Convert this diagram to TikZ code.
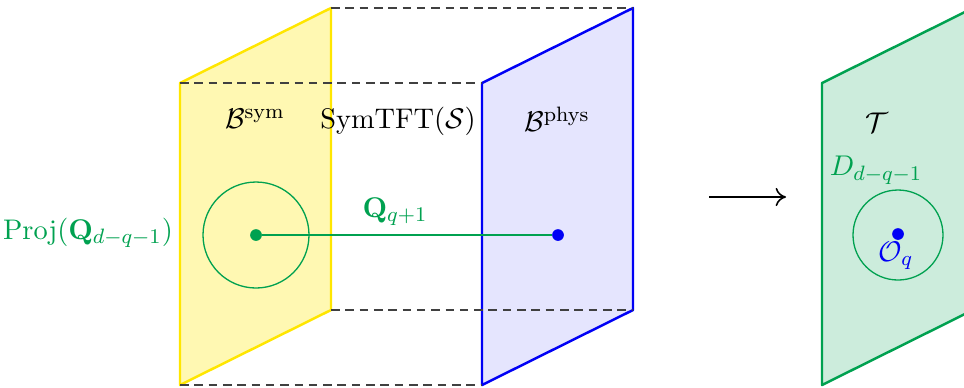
\documentclass[tikz,border=0pt]{standalone}
\usepackage{amsmath,amssymb}
\usetikzlibrary{arrows.meta}
\definecolor{mygreen}{RGB}{0,161,80}
\definecolor{myyellow}{RGB}{255,230,0}
\definecolor{myblue}{RGB}{0,0,245}
\begin{document}
\begin{tikzpicture}[x=0.0135cm,y=-0.0135cm,
  plane/.style={line width=0.95pt, line join=round},
  dashline/.style={dash pattern=on 3.3pt off 2.2pt, black!75, line width=0.55pt},
  dot/.style={circle, fill, inner sep=0pt, minimum size=4.5pt},
  lbl/.style={font=\fontsize{10.9}{13}\selectfont, inner sep=1pt}]
\useasboundingbox (0,0) rectangle (964,387);
% planes
\fill[myyellow!30] (180,83) -- (331,8) -- (331,310) -- (180,385) -- cycle;
\fill[myblue!10] (482,83) -- (633,8) -- (633,310) -- (482,385) -- cycle;
\draw[plane, myyellow] (180,83) -- (331,8) -- (331,310) -- (180,385) -- cycle;
\draw[plane, myblue] (482,83) -- (633,8) -- (633,310) -- (482,385) -- cycle;
% dashed edges
\draw[dashline] (331,8) -- (633,8);
\draw[dashline] (180,83) -- (482,83);
\draw[dashline] (331,310) -- (633,310);
\draw[dashline] (180,385) -- (482,385);
% green plane
\begin{scope}
\clip (0,0) rectangle (964,387);
\filldraw[plane, mygreen, fill=mygreen!20] (822,83) -- (973,8) -- (973,310) -- (822,385) -- cycle;
\end{scope}
% line operator
\node[dot, mygreen] (a) at (256,235) {};
\node[dot, myblue] (b) at (558,235) {};
\draw[mygreen, line width=0.5pt] (a.center) circle (53);
\draw[mygreen, line width=0.85pt] (a) -- (b);
% labels
\node[lbl] (bsym) at (255,119) {$\mathcal{B}^{\mathrm{sym}}$};
\node[lbl] (symtft) at (398,121) {SymTFT$(\mathcal{S})$};
\node[lbl] (bphys) at (557,119) {$\mathcal{B}^{\mathrm{phys}}$};
\node[lbl, mygreen] (qlab) at (395,212) {$\mathbf{Q}_{q+1}$};
\node[lbl, mygreen] (proj) at (88,233) {Proj$(\mathbf{Q}_{d-q-1})$};
% arrow
\coordinate (arrs) at (709,197);
\coordinate (arre) at (786,197);
\draw[-{To[length=4pt,width=7pt]}, line width=0.6pt] (arrs) -- (arre);
% right side
\node[dot, myblue] (o) at (898,234) {};
\draw[mygreen, line width=0.5pt] (898,235) circle (45);
\node[lbl] (T) at (877,123) {$\mathcal{T}$};
\node[lbl, mygreen] (D) at (876,170) {$D_{d-q-1}$};
\node[lbl, myblue] (Oq) at (896,256) {$\mathcal{O}_q$};
\end{tikzpicture}
\end{document}
